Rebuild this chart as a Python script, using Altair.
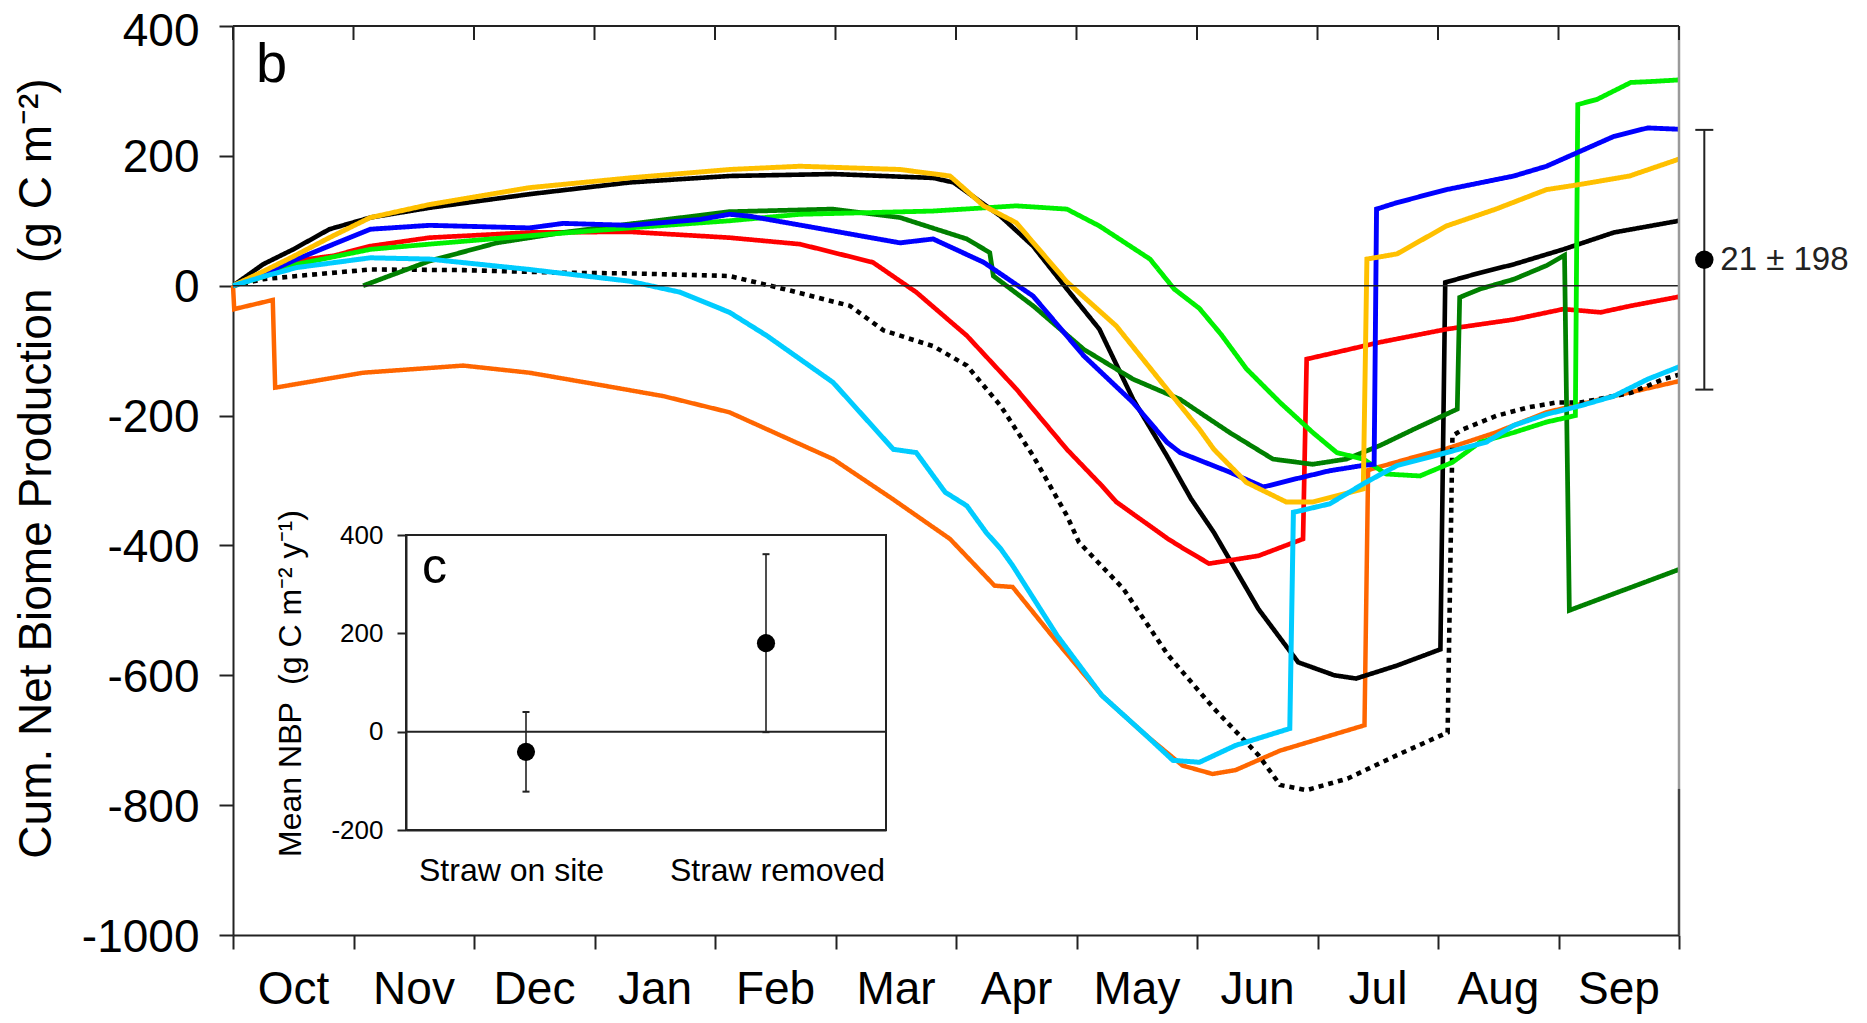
import altair as alt
import pandas as pd

# ---------------- data ----------------
month_names = ["Oct", "Nov", "Dec", "Jan", "Feb", "Mar", "Apr", "May", "Jun", "Jul", "Aug", "Sep"]
month_ticks = list(range(13))
y_ticks = [-1000, -800, -600, -400, -200, 0, 200, 400]

orange_m = [0, 0.01, 0.33, 0.35, 1.08, 1.91, 2.46, 3.02, 3.57, 4.12, 4.43, 4.80, 4.98, 5.47, 5.95, 6.32, 6.47, 6.84, 7.21, 7.58, 7.88, 8.13, 8.32, 8.69, 9.39, 9.42, 9.80, 10.07, 10.48, 10.90, 11.46, 12.0]
orange_v = [0, -36, -22, -157, -134, -123, -134, -152, -170, -195, -221, -252, -267, -328, -390, -462, -464, -549, -631, -693, -739, -752, -746, -716, -677, -284, -264, -251, -226, -195, -170, -147]

dotted_m = [0, 0.25, 0.53, 1.14, 1.91, 2.74, 3.29, 4.12, 4.57, 5.12, 5.4, 5.81, 6.09, 6.37, 6.64, 6.92, 7.02, 7.39, 7.76, 8.14, 8.51, 8.69, 8.91, 9.25, 9.66, 10.08, 10.12, 10.21, 10.49, 10.76, 10.98, 11.18, 11.6, 11.87, 12.0]
dotted_v = [0, 10, 15, 25, 24, 20, 19, 15, -5, -31, -69, -93, -123, -185, -262, -354, -395, -467, -569, -651, -723, -769, -777, -759, -723, -688, -231, -221, -200, -187, -180, -180, -165, -144, -137]

black_m = [0, 0.25, 0.5, 0.8, 1.14, 1.63, 2.46, 3.29, 4.12, 4.98, 5.81, 5.98, 6.37, 6.64, 6.92, 7.19, 7.47, 7.75, 7.95, 8.14, 8.51, 8.84, 9.14, 9.32, 9.66, 10.02, 10.06, 10.35, 10.63, 11.04, 11.46, 12.0]
black_v = [0, 33, 56, 87, 105, 120, 141, 159, 169, 172, 166, 159, 107, 61, -5, -67, -175, -262, -328, -380, -498, -580, -600, -605, -585, -560, 5, 20, 33, 56, 82, 100]

red_m = [0, 0.25, 0.5, 0.83, 1.14, 1.63, 2.46, 3.29, 4.12, 4.705, 5.31, 5.67, 6.09, 6.5, 6.92, 7.21, 7.33, 7.76, 7.89, 8.10, 8.51, 8.88, 8.91, 9.10, 9.52, 10.07, 10.63, 11.04, 11.35, 11.60, 12.0]
red_v = [0, 16, 38, 46, 61, 74, 82, 83, 74, 64, 36, -10, -77, -159, -252, -308, -333, -390, -405, -428, -416, -390, -113, -105, -87, -67, -52, -36, -41, -31, -17]

dkgreen_m = [1.08, 1.63, 2.19, 2.74, 3.29, 4.12, 4.98, 5.535, 6.09, 6.28, 6.31, 6.64, 7.06, 7.47, 7.86, 8.02, 8.27, 8.63, 8.96, 9.24, 9.52, 9.80, 10.16, 10.18, 10.35, 10.63, 10.90, 11.05, 11.09, 12.0]
dkgreen_v = [0, 38, 66, 82, 95, 114, 118, 105, 72, 51, 15, -31, -98, -144, -175, -195, -226, -267, -275, -267, -246, -221, -190, -18, -5, 10, 31, 47, -500, -437]

lime_m = [0, 0.25, 0.53, 1.14, 1.63, 2.46, 3.29, 4.12, 4.705, 5.81, 6.5, 6.92, 7.19, 7.61, 7.81, 8.02, 8.2, 8.41, 8.69, 8.96, 9.16, 9.38, 9.57, 9.85, 10.12, 10.35, 10.63, 10.90, 11.14, 11.16, 11.32, 11.60, 11.82, 12.0]
lime_v = [0, 14, 33, 56, 64, 77, 89, 100, 110, 115, 123, 118, 92, 41, -5, -35, -75, -128, -180, -226, -257, -267, -290, -293, -272, -241, -226, -210, -200, 279, 287, 313, 315, 317]

blue_m = [0, 0.25, 0.53, 1.14, 1.63, 2.46, 2.74, 3.29, 3.875, 4.12, 4.29, 4.84, 5.535, 5.81, 6.23, 6.64, 7.06, 7.47, 7.75, 7.86, 8.27, 8.55, 8.83, 9.10, 9.37, 9.47, 9.49, 9.66, 10.07, 10.63, 10.90, 11.18, 11.46, 11.74, 12.0]
blue_v = [0, 18, 41, 87, 93, 89, 96, 93, 102, 110, 107, 89, 66, 72, 36, -16, -108, -180, -241, -257, -287, -310, -297, -285, -277, -275, 118, 128, 148, 169, 184, 207, 230, 243, 241]

gold_m = [0, 0.25, 0.5, 0.8, 1.14, 1.63, 2.46, 3.29, 4.12, 4.705, 5.535, 5.95, 6.23, 6.5, 6.92, 7.33, 7.75, 8.02, 8.14, 8.41, 8.74, 8.96, 9.38, 9.41, 9.66, 10.07, 10.48, 10.90, 11.18, 11.59, 12.0]
gold_v = [0, 22, 45, 74, 105, 125, 151, 166, 179, 184, 179, 169, 123, 97, 6, -62, -159, -221, -252, -303, -333, -333, -313, 41, 49, 92, 118, 148, 156, 169, 195]

cyan_m = [0, 0.25, 0.53, 1.14, 1.63, 2.46, 3.29, 3.71, 4.12, 4.43, 4.98, 5.48, 5.67, 5.91, 6.09, 6.25, 6.37, 6.47, 6.84, 7.21, 7.58, 7.80, 8.02, 8.32, 8.77, 8.80, 9.10, 9.40, 9.66, 10.07, 10.40, 10.63, 10.90, 11.18, 11.46, 11.74, 12.0]
cyan_v = [0, 14, 28, 43, 41, 25, 7, -10, -41, -77, -149, -252, -257, -318, -339, -380, -405, -431, -539, -631, -693, -731, -734, -708, -682, -349, -336, -303, -277, -257, -241, -215, -198, -185, -170, -144, -125]

series_names = ["orange", "dotted", "black", "red", "dkgreen", "lime", "blue", "gold", "cyan"]
series_colors = ["#FF6600", "#000000", "#000000", "#FF0000", "#008000", "#00F000", "#0000FF", "#FFC000", "#00CCFF"]
series_dash = [[1, 0], [5, 5], [1, 0], [1, 0], [1, 0], [1, 0], [1, 0], [1, 0], [1, 0]]
series_width = [4.5, 5, 4.5, 4.5, 4.5, 4.5, 4.5, 4.5, 4.5]
series_data = [(orange_m, orange_v), (dotted_m, dotted_v), (black_m, black_v), (red_m, red_v),
               (dkgreen_m, dkgreen_v), (lime_m, lime_v), (blue_m, blue_v), (gold_m, gold_v), (cyan_m, cyan_v)]

# overall mean (right-hand error bar), as drawn
err_x = [12.21]
err_mid = [40]
err_lo = [-160]
err_hi = [240]
err_label = ["21 \u00b1 198"]

# inset c
inset_cats = ["Straw on site", "Straw removed"]
inset_pos = [0.5, 1.5]
inset_mean = [-41, 180]
inset_err = [81, 181]
inset_ticks = [-200, 0, 200, 400]

# ---------------- build tables ----------------
rows = []
for name, (ms, vs) in zip(series_names, series_data):
    for i, (m, v) in enumerate(zip(ms, vs)):
        rows.append({"series": name, "idx": i, "m": m, "v": v})
lines_df = pd.DataFrame(rows)

FONT = "Liberation Sans"
W, H = 1446, 909
INK = "#222222"

xs = alt.Scale(domain=[0, 12], nice=False, zero=False)
ys = alt.Scale(domain=[-1000, 400], nice=False, zero=False)

month_expr = "[" + ",".join("'%s'" % n for n in month_names) + "][datum.value] || ''"
num_expr = "'' + datum.value"

lines = alt.Chart(lines_df).mark_line(clip=False).encode(
    x=alt.X("m:Q", scale=xs, axis=alt.Axis(
        orient="bottom", values=month_ticks, labelExpr=month_expr, labelOffset=60,
        tickSize=14, tickWidth=2, tickColor=INK, domainWidth=2, domainColor=INK,
        labelFontSize=46, labelBaseline="alphabetic", labelPadding=54, labelColor="black",
        labelFlush=False, labelOverlap=False, grid=False, title=None)),
    y=alt.Y("v:Q", scale=ys, axis=alt.Axis(
        orient="left", values=y_ticks, labelExpr=num_expr, tickSize=14, tickWidth=2, tickColor=INK,
        labelOffset={"condition": {"test": "datum.value >= 400", "value": 5}, "value": 2},
        domainWidth=2, domainColor=INK, labelFontSize=46, labelPadding=20,
        labelColor="black", grid=False,
        title="Cum. Net Biome Production \u00a0(g C m\u207b\u00b2)",
        titleFontSize=46, titleFontWeight="normal", titleColor="black",
        titleAngle=270, titleBaseline="alphabetic", titleX=-183, titleY=442)),
    color=alt.Color("series:N", scale=alt.Scale(domain=series_names, range=series_colors), legend=None),
    strokeDash=alt.StrokeDash("series:N", scale=alt.Scale(domain=series_names, range=series_dash), legend=None),
    strokeWidth=alt.StrokeWidth("series:N", scale=alt.Scale(domain=series_names, range=series_width), legend=None),
    order=alt.Order("idx:Q"),
)

zero_rule = alt.Chart(pd.DataFrame({"v": [0]})).mark_rule(color=INK, strokeWidth=1.6).encode(
    y=alt.Y("v:Q", scale=ys))

top_rule = alt.Chart(pd.DataFrame({"v": [400]})).mark_rule(color=INK, strokeWidth=2).encode(
    y=alt.Y("v:Q", scale=ys))

right_gray = alt.Chart(pd.DataFrame({"m": [12], "a": [400], "b": [-775]})).mark_rule(
    strokeWidth=2.5, color="#9a9a9a").encode(
    x=alt.X("m:Q", scale=xs), y=alt.Y("a:Q", scale=ys), y2="b:Q")
right_dark = alt.Chart(pd.DataFrame({"m": [12], "a": [-775], "b": [-1000]})).mark_rule(
    strokeWidth=2.5, color="#444444").encode(
    x=alt.X("m:Q", scale=xs), y=alt.Y("a:Q", scale=ys), y2="b:Q")

top_ticks = alt.Chart(pd.DataFrame({"m": month_ticks})).mark_rule(color=INK, strokeWidth=2).encode(
    x=alt.X("m:Q", scale=xs), y=alt.value(0), y2=alt.value(14))

err_df = pd.DataFrame({"x": err_x, "mid": err_mid, "lo": err_lo, "hi": err_hi, "label": err_label})
err_line = alt.Chart(err_df).mark_rule(color=INK, strokeWidth=2).encode(
    x=alt.X("x:Q", scale=xs), y=alt.Y("lo:Q", scale=ys), y2="hi:Q")
err_cap_hi = alt.Chart(err_df).mark_rule(color=INK, strokeWidth=2, xOffset=-9, x2Offset=9).encode(
    x=alt.X("x:Q", scale=xs), x2="x:Q", y=alt.Y("hi:Q", scale=ys))
err_cap_lo = alt.Chart(err_df).mark_rule(color=INK, strokeWidth=2, xOffset=-9, x2Offset=9).encode(
    x=alt.X("x:Q", scale=xs), x2="x:Q", y=alt.Y("lo:Q", scale=ys))
err_dot = alt.Chart(err_df).mark_circle(size=340, color="black", opacity=1).encode(
    x=alt.X("x:Q", scale=xs), y=alt.Y("mid:Q", scale=ys))
err_text = alt.Chart(err_df).mark_text(align="left", baseline="middle", dx=16, fontSize=33,
                                        color=INK, font=FONT).encode(
    x=alt.X("x:Q", scale=xs), y=alt.Y("mid:Q", scale=ys), text="label:N")

b_label = alt.Chart(pd.DataFrame({"t": ["b"]})).mark_text(
    align="left", baseline="alphabetic", fontSize=56, font=FONT, color="black").encode(
    x=alt.value(23), y=alt.value(56), text="t:N")

main = alt.layer(lines, zero_rule, top_rule, right_gray, right_dark, top_ticks,
                 err_line, err_cap_hi, err_cap_lo, err_dot, err_text, b_label)

# ---------------- inset ----------------
ixs = alt.Scale(domain=[0, 2], range=[173, 653], nice=False, zero=False)
iys = alt.Scale(domain=[-200, 400], range=[804, 509], nice=False, zero=False)

inset_df = pd.DataFrame({"cat": inset_cats, "pos": inset_pos, "mean": inset_mean, "err": inset_err})
inset_df["lo"] = inset_df["mean"] - inset_df["err"]
inset_df["hi"] = inset_df["mean"] + inset_df["err"]

cat_expr = "datum.value < 1 ? '%s' : '%s'" % (inset_cats[0], inset_cats[1])

frame_df = pd.DataFrame({"x0": [0], "x1": [2], "y0": [-200], "y1": [400]})
inset_frame = alt.Chart(frame_df).mark_rect(fillOpacity=0, stroke=INK, strokeWidth=2).encode(
    x=alt.X("x0:Q", scale=ixs, axis=alt.Axis(
        orient="bottom", offset=-105, values=inset_pos, labelExpr=cat_expr, ticks=False,
        labelOffset={"condition": {"test": "datum.value < 1", "value": -15}, "value": 11},
        domainWidth=2, domainColor=INK, labelFontSize=32, labelPadding=25, labelColor="black",
        labelLimit=0, labelFlush=False, labelOverlap=False, grid=False, title=None)),
    x2="x1:Q",
    y=alt.Y("y0:Q", scale=iys, axis=alt.Axis(
        orient="left", offset=-173, values=inset_ticks, labelExpr=num_expr, tickSize=9,
        tickWidth=2, tickColor=INK,
        domainWidth=2, domainColor=INK, labelFontSize=26, labelPadding=14, labelColor="black",
        grid=False, title="Mean NBP \u00a0(g C m\u207b\u00b2 y\u207b\u00b9)", titleFontSize=32,
        titleFontWeight="normal", titleColor="black", titleAngle=270, titleBaseline="alphabetic",
        titleX=-106, titleY=657)),
    y2="y1:Q",
)

inset_zero = alt.Chart(pd.DataFrame({"x0": [0], "x1": [2], "v": [0]})).mark_rule(
    color=INK, strokeWidth=2).encode(
    x=alt.X("x0:Q", scale=ixs), x2="x1:Q", y=alt.Y("v:Q", scale=iys))

inset_bar = alt.Chart(inset_df).mark_rule(color=INK, strokeWidth=1.6).encode(
    x=alt.X("pos:Q", scale=ixs), y=alt.Y("lo:Q", scale=iys), y2="hi:Q")
inset_cap_hi = alt.Chart(inset_df).mark_rule(color=INK, strokeWidth=2, xOffset=-3.5, x2Offset=3.5).encode(
    x=alt.X("pos:Q", scale=ixs), x2="pos:Q", y=alt.Y("hi:Q", scale=iys))
inset_cap_lo = alt.Chart(inset_df).mark_rule(color=INK, strokeWidth=2, xOffset=-3.5, x2Offset=3.5).encode(
    x=alt.X("pos:Q", scale=ixs), x2="pos:Q", y=alt.Y("lo:Q", scale=iys))
inset_dot = alt.Chart(inset_df).mark_circle(size=330, color="black", opacity=1).encode(
    x=alt.X("pos:Q", scale=ixs), y=alt.Y("mean:Q", scale=iys))

c_label = alt.Chart(pd.DataFrame({"t": ["c"]})).mark_text(
    align="left", baseline="alphabetic", fontSize=50, font=FONT, color="black").encode(
    x=alt.value(189), y=alt.value(557), text="t:N")

inset = alt.layer(inset_frame, inset_zero, inset_bar, inset_cap_hi, inset_cap_lo, inset_dot, c_label)

chart = alt.layer(main, inset).resolve_scale(x="independent", y="independent").properties(
    width=W, height=H,
    autosize=alt.AutoSizeParams(type="none"),
    padding={"left": 225, "top": 18, "right": 180, "bottom": 80},
).configure_view(stroke=None).configure_axis(
    labelFont=FONT, titleFont=FONT
).configure_text(font=FONT)

chart.save("out.html", embed_options={"renderer": "svg", "actions": False})
